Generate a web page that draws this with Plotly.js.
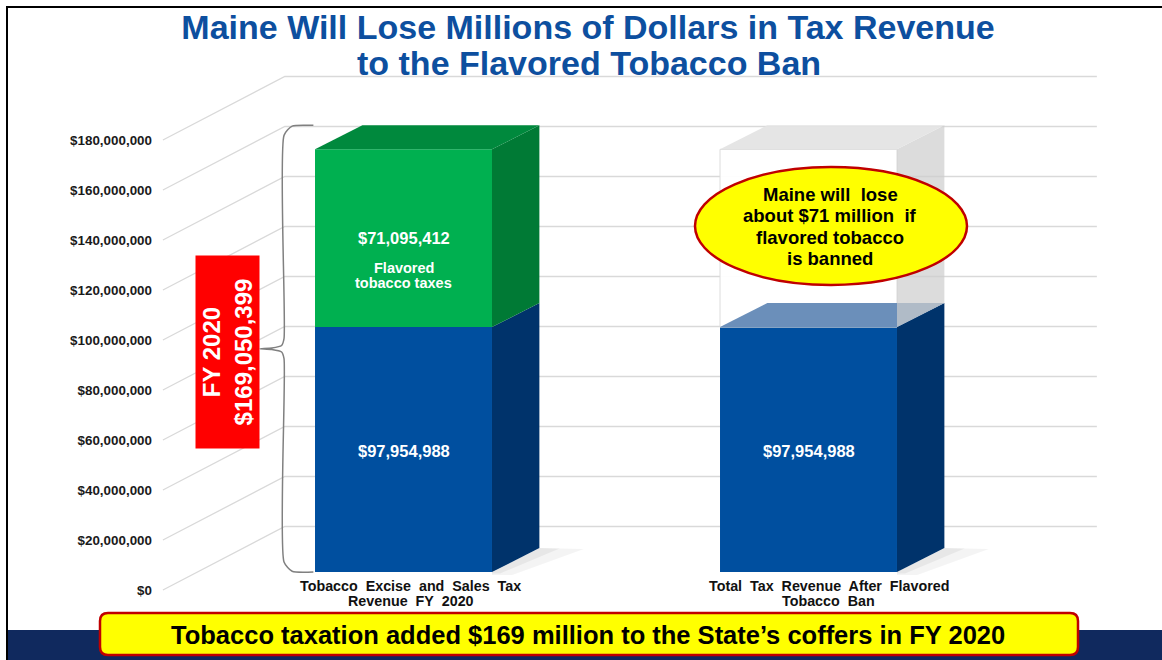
<!DOCTYPE html>
<html>
<head>
<meta charset="utf-8">
<script src="https://cdn.plot.ly/plotly-3.0.1.min.js"></script>
<style>
html, body { margin: 0; padding: 0; background: #ffffff; }
#chart { width: 1162px; height: 660px; }
</style>
</head>
<body>
<div id="chart"></div>
<script>
// ---------------- data ----------------
const categories = ['Tobacco Excise and Sales Tax<br>Revenue FY 2020', 'Total Tax Revenue After Flavored<br>Tobacco Ban'];
const nonFlavoredTaxes = [97954988, 97954988];
const flavoredTaxes = [71095412, 0];
const lostFlavoredTaxes = [0, 71095412];
const fy2020Total = 169050399;
const tickValues = [0, 20000000, 40000000, 60000000, 80000000, 100000000, 120000000, 140000000, 160000000, 180000000];

// ---------------- geometry / style ----------------
const W = 1162, H = 660, ML = 158;
const FONT = 'Liberation Sans, Arial, Helvetica, sans-serif';
const barW = 0.437, dX = 0.117, dY = 9.6e6, floorY = 7.2e6;
const gridFrontX = -0.594, wallX = -0.293, wallEndX = 1.712, wallRise = 25.4e6;
const xRange = [-0.60617, 1.87284], yRange = [-28e6, 236e6];
const labelShift = [7, 20];
const pX = px => (px - ML) / (W - ML);
const pY = py => (H - py) / H;
const money = v => '$' + Math.round(v).toLocaleString('en-US');
const wide = s => s.split(' ').join('\u00a0 ');

const xs = categories.map((_, i) => i);
const nz = a => a.map(v => (v ? v : null));
const traces = [];
const face = (fx, fy, color) => traces.push({
  type: 'scatter', mode: 'lines', x: fx.concat([fx[0]]), y: fy.concat([fy[0]]),
  fill: 'toself', fillcolor: color, line: { width: 0, color: color },
  hoverinfo: 'skip', showlegend: false
});

// front faces (bars)
traces.push({ type: 'bar', x: xs, y: nonFlavoredTaxes, base: xs.map(() => floorY), width: barW,
  marker: { color: '#004f9f', line: { width: 0 } }, hoverinfo: 'skip', showlegend: false });
traces.push({ type: 'bar', x: xs, y: nz(flavoredTaxes), base: nonFlavoredTaxes.map(v => v + floorY), width: barW,
  marker: { color: '#00b050', line: { width: 0 } }, hoverinfo: 'skip', showlegend: false });
traces.push({ type: 'bar', x: xs, y: nz(lostFlavoredTaxes), base: nonFlavoredTaxes.map(v => v + floorY), width: barW,
  marker: { color: 'rgba(255,255,255,0.94)', line: { color: '#dcdcdc', width: 1 } }, hoverinfo: 'skip', showlegend: false });

// shadows, side and top faces
xs.forEach(i => {
  const L = i - barW / 2, R = i + barW / 2;
  const b0 = floorY, b1 = floorY + nonFlavoredTaxes[i], b2 = b1 + flavoredTaxes[i] + lostFlavoredTaxes[i];
  face([R, R + dX, R + dX + 0.11, R + 0.05, R], [b0, b0 + dY, b0 + dY - 0.4e6, b0 - 1.2e6, b0 - 1.2e6], 'rgba(0,0,0,0.045)');
  face([R, R + dX, R + dX + 0.05, R + 0.02, R], [b0, b0 + dY, b0 + dY - 0.2e6, b0 - 0.6e6, b0 - 0.6e6], 'rgba(0,0,0,0.05)');
  face([R, R + dX, R + dX, R], [b0, b0 + dY, b1 + dY, b1], '#00336b');
  if (flavoredTaxes[i]) {
    face([R, R + dX, R + dX, R], [b1, b1 + dY, b2 + dY, b2], '#007a35');
    face([L, L + dX, R + dX, R], [b2, b2 + dY, b2 + dY, b2], '#00893d');
  }
  if (lostFlavoredTaxes[i]) {
    face([L, L + dX, R + dX, R], [b1, b1 + dY, b1 + dY, b1], '#6b8fba');
    face([R, R + dX, R + dX, R], [b1, b1 + dY, b2 + dY, b2], 'rgba(205,205,205,0.7)');
    face([L, L + dX, R + dX, R], [b2, b2 + dY, b2 + dY, b2], 'rgba(228,228,228,0.95)');
  }
});

// bracket around FY 2020 bar
(function () {
  const L0 = -barW / 2;
  const top = floorY + nonFlavoredTaxes[0] + flavoredTaxes[0] + dY, bottom = floorY, mid = (top + bottom) / 2;
  const bx = L0 - 0.0765, tip = L0 - 0.136;
  traces.push({
    type: 'scatter', mode: 'lines', hoverinfo: 'skip', showlegend: false,
    x: [L0 - 0.004, bx + 0.02, bx, bx, bx - 0.006, bx - 0.03, tip, bx - 0.03, bx - 0.006, bx, bx, bx + 0.02, L0 - 0.004],
    y: [top, top - 0.3e6, top - 4e6, mid + 4e6, mid + 1.3e6, mid + 0.3e6, mid, mid - 0.3e6, mid - 1.3e6, mid - 4e6, bottom + 4e6, bottom + 0.3e6, bottom],
    line: { color: '#808080', width: 1.5, shape: 'spline', smoothing: 0.6 }
  });
})();

// ---------------- shapes ----------------
const shapes = [];
tickValues.forEach(v => {
  shapes.push({ type: 'path', xref: 'x', yref: 'y', layer: 'below',
    path: `M ${gridFrontX},${v} L ${wallX},${v + wallRise} L ${wallEndX},${v + wallRise}`,
    line: { color: '#d9d9d9', width: 1.3 } });
});
shapes.push({ type: 'rect', xref: 'paper', yref: 'paper', layer: 'below',
  x0: pX(8), x1: pX(W), y0: pY(H), y1: pY(630), fillcolor: '#10295e', line: { width: 0 } });
shapes.push({ type: 'line', xref: 'paper', yref: 'paper', x0: pX(7), x1: pX(W), y0: pY(7), y1: pY(7), line: { color: '#000', width: 2 } });
shapes.push({ type: 'line', xref: 'paper', yref: 'paper', x0: pX(7), x1: pX(7), y0: pY(6), y1: pY(H), line: { color: '#000', width: 2 } });
shapes.push({ type: 'circle', xref: 'paper', yref: 'paper', layer: 'above',
  x0: pX(695), x1: pX(967), y0: pY(285), y1: pY(167), fillcolor: '#ffff00', line: { color: '#c00000', width: 2.5 } });
(function () {
  const x0 = 100, x1 = 1078, y0 = 613, y1 = 655, r = 8;
  const P = (x, y) => `${pX(x)},${pY(y)}`;
  const path = `M ${P(x0 + r, y0)} L ${P(x1 - r, y0)} Q ${P(x1, y0)} ${P(x1, y0 + r)} L ${P(x1, y1 - r)} Q ${P(x1, y1)} ${P(x1 - r, y1)} L ${P(x0 + r, y1)} Q ${P(x0, y1)} ${P(x0, y1 - r)} L ${P(x0, y0 + r)} Q ${P(x0, y0)} ${P(x0 + r, y0)} Z`;
  shapes.push({ type: 'path', xref: 'paper', yref: 'paper', layer: 'above', path: path,
    fillcolor: '#ffff00', line: { color: '#c00000', width: 2.5 } });
})();

// ---------------- annotations ----------------
const annotations = [];
const TITLE_BLUE = '#0d4f9f';
annotations.push({ xref: 'paper', yref: 'paper', x: pX(589), y: pY(63), xanchor: 'center', yanchor: 'middle', showarrow: false,
  text: 'to the Flavored Tobacco Ban', font: { family: FONT, size: 34, color: TITLE_BLUE, weight: 'bold' } });

xs.forEach(i => {
  const b1 = floorY + nonFlavoredTaxes[i];
  annotations.push({ x: i, y: floorY + nonFlavoredTaxes[i] / 2, xref: 'x', yref: 'y', showarrow: false, yshift: -1,
    text: money(nonFlavoredTaxes[i]), font: { family: FONT, size: 16.5, color: '#ffffff', weight: 'bold' } });
  if (flavoredTaxes[i]) {
    const m = b1 + flavoredTaxes[i] / 2;
    annotations.push({ x: i, y: m, xref: 'x', yref: 'y', showarrow: false, yshift: 0,
      text: money(flavoredTaxes[i]), font: { family: FONT, size: 16.5, color: '#ffffff', weight: 'bold' } });
    annotations.push({ x: i, y: m, xref: 'x', yref: 'y', showarrow: false, yshift: -30,
      text: 'Flavored', font: { family: FONT, size: 14.5, color: '#ffffff', weight: 'bold' } });
    annotations.push({ x: i, y: m, xref: 'x', yref: 'y', showarrow: false, yshift: -45,
      text: 'tobacco taxes', font: { family: FONT, size: 14.5, color: '#ffffff', weight: 'bold' } });
  }
  categories[i].split('<br>').forEach((line, k) => {
    annotations.push({ x: i, y: floorY, xref: 'x', yref: 'y', showarrow: false, yanchor: 'middle',
      xshift: labelShift[i], yshift: -14 - 15 * k,
      text: wide(line), font: { family: FONT, size: 14.3, color: '#111111', weight: 'bold' } });
  });
});

annotations.push({ xref: 'paper', yref: 'paper', x: pX(227.5), y: pY(352.5), xanchor: 'center', yanchor: 'middle',
  showarrow: false, textangle: -90, bgcolor: '#ff0000', borderpad: 0, width: 192, height: 63, align: 'center', valign: 'middle',
  text: 'FY 2020<br>' + money(fy2020Total), font: { family: FONT, size: 24, color: '#ffffff', weight: 'bold' } });

const lostMillions = Math.round(lostFlavoredTaxes[1] / 1e6);
const calloutLines = ['Maine will\u00a0 lose', 'about $' + lostMillions + ' million\u00a0 if', 'flavored tobacco', 'is banned'];
calloutLines.forEach((t, k) => {
  annotations.push({ xref: 'paper', yref: 'paper', x: pX(830), y: pY(194 + 21.5 * k), xanchor: 'center', yanchor: 'middle', showarrow: false,
    text: t, font: { family: FONT, size: 18.5, color: '#000000', weight: 'bold' } });
});

annotations.push({ xref: 'paper', yref: 'paper', x: pX(588), y: pY(635), xanchor: 'center', yanchor: 'middle', showarrow: false,
  text: 'Tobacco taxation added $' + Math.floor(fy2020Total / 1e6) + ' million to the State\u2019s coffers in FY 2020',
  font: { family: FONT, size: 25.5, color: '#000000', weight: 'bold' } });

// ---------------- layout ----------------
const layout = {
  width: W, height: H,
  margin: { l: ML, r: 0, t: 0, b: 0, pad: 0 },
  paper_bgcolor: '#ffffff', plot_bgcolor: 'rgba(0,0,0,0)',
  showlegend: false, barmode: 'overlay', hovermode: false,
  title: { text: 'Maine Will Lose Millions of Dollars in Tax Revenue', xref: 'container', yref: 'container',
    x: 588 / W, xanchor: 'center', y: 1 - 27 / H, yanchor: 'middle',
    font: { family: FONT, size: 34, color: TITLE_BLUE, weight: 'bold' } },
  xaxis: { range: xRange, visible: false, fixedrange: true },
  yaxis: { range: yRange, tickvals: tickValues, tickformat: '$,.0f', showgrid: false, zeroline: false, showline: false,
    ticks: '', ticklabelstandoff: 5, fixedrange: true,
    tickfont: { family: FONT, size: 13.4, color: '#1a1a1a', weight: 'bold' } },
  shapes: shapes,
  annotations: annotations
};

Plotly.newPlot('chart', traces, layout, { displayModeBar: false, staticPlot: true });
</script>
</body>
</html>
